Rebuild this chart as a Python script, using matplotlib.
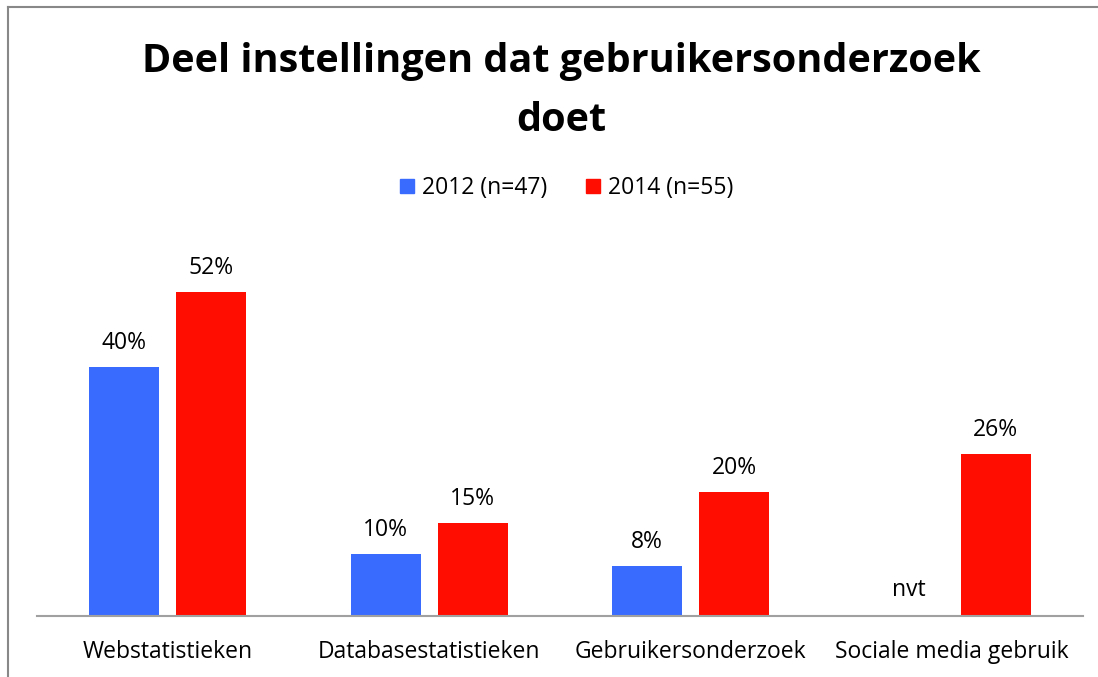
import matplotlib.pyplot as plt
import numpy as np
from matplotlib.patches import Patch
from matplotlib.lines import Line2D

plt.rcParams['font.family'] = ['Open Sans', 'DejaVu Sans']

# data
categories = ['Webstatistieken', 'Databasestatistieken', 'Gebruikersonderzoek', 'Sociale media gebruik']
series_2012 = [40, 10, 8, None]
series_2014 = [52, 15, 20, 26]
labels = ['2012 (n=47)', '2014 (n=55)']
colors = ['#3A6BFF', '#FF0D00']

fig = plt.figure(figsize=(10.98, 6.77), dpi=100)
ax = fig.add_axes([37 / 1098, 61 / 677, 1046 / 1098, 373.5 / 677])

x = np.arange(len(categories))
w = 0.268
off = 0.1665

for i in range(len(categories)):
    v = series_2012[i]
    if v is None:
        ax.text(x[i] - off, 4.2, 'nvt', ha='center', va='center', fontsize=16.5)
    else:
        ax.bar(x[i] - off, v, w, color=colors[0])
        ax.text(x[i] - off, v + 1.9, str(v) + '%', ha='center', va='bottom', fontsize=16.5)
    v = series_2014[i]
    ax.bar(x[i] + off, v, w, color=colors[1])
    ax.text(x[i] + off, v + 1.9, str(v) + '%', ha='center', va='bottom', fontsize=16.5)

ax.set_xlim(-0.5, len(categories) - 0.5)
ax.set_ylim(0, 60)
ax.set_xticks(x)
ax.set_xticklabels(categories, fontsize=16.5)
ax.tick_params(axis='x', length=0, pad=17)
ax.set_yticks([])
for s in ['top', 'right', 'left']:
    ax.spines[s].set_visible(False)
ax.spines['bottom'].set_color('#A0A0A0')
ax.spines['bottom'].set_linewidth(1.5)

# title
fig.text(0.511, 1 - 91 / 677, 'Deel instellingen dat gebruikersonderzoek\ndoet',
         ha='center', va='center', fontsize=28.5, fontweight='bold', linespacing=1.68)

# legend
handles = [Patch(color=colors[0]), Patch(color=colors[1])]
fig.legend(handles, labels, loc='center', bbox_to_anchor=(0.516, 1 - 188 / 677),
           ncol=2, frameon=False, fontsize=16.5, handlelength=0.6, handleheight=0.6,
           handletextpad=0.35, columnspacing=1.7)

# chart border (left and top)
fig.add_artist(Line2D([8 / 1098, 8 / 1098], [0, 1 - 7 / 677], color='#888888', lw=1.5))
fig.add_artist(Line2D([8 / 1098, 1], [1 - 7 / 677, 1 - 7 / 677], color='#888888', lw=1.5))

fig.savefig('out.png', dpi=100)
